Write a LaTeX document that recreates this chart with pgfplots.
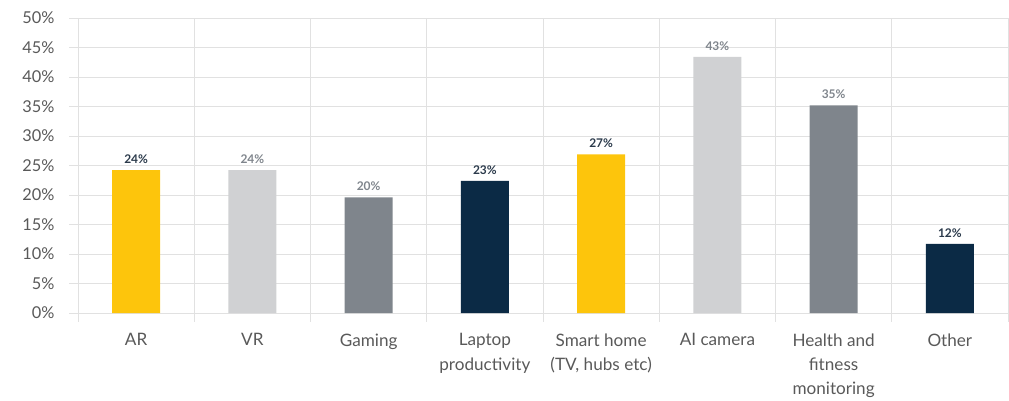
\documentclass[border=0pt]{standalone}
\usepackage{pgfplots}
\pgfplotsset{compat=1.18}
\usepackage{fontspec}
\setmainfont{Lato}
\definecolor{cyel}{HTML}{FDC50C}
\definecolor{clgr}{HTML}{D0D1D3}
\definecolor{cgry}{HTML}{7F858C}
\definecolor{cnav}{HTML}{0B2A45}
\definecolor{cgrid}{HTML}{E1E1E1}
\definecolor{ctxt}{HTML}{595959}
\definecolor{clabn}{HTML}{2B3A4B}
\begin{document}
\begin{tikzpicture}
\useasboundingbox (-78bp,-88bp) rectangle (931bp,313bp);
\begin{axis}[
  scale only axis,
  width=930bp, height=295bp,
  xmin=-0.5, xmax=7.5,
  ymin=0, ymax=50,
  ytick={0,5,...,50},
  yticklabel={\pgfmathprintnumber{\tick}\%},
  /pgf/number format/assume math mode=true,
  xtick={-0.5,0.5,...,7.5},
  xticklabels={},
  extra x ticks={0,1,2,3,4,5,6,7},
  extra x tick labels={AR,VR,Gaming,{Laptop\\productivity},{Smart home\\(TV, hubs etc)},AI camera,{Health and\\fitness\\monitoring},Other},
  extra x tick style={grid=none, major tick length=0pt, tick style={draw=none}},
  xtick pos=bottom, ytick pos=left,
  tick align=outside,
  major tick length=9bp,
  tick style={draw=cgrid, line width=1pt},
  grid=major,
  major grid style={draw=cgrid, line width=1pt},
  axis line style={draw=none},
  ticklabel style={text=ctxt},
  xticklabel style={font=\fontsize{17.2}{24.5}\selectfont, align=center, yshift=-17bp},
  yticklabel style={font=\fontsize{16.4}{20}\selectfont, xshift=-11bp},
  ybar, bar width=48bp, bar shift=0pt,
  point meta=explicit symbolic,
  nodes near coords={\pgfplotspointmeta\%},
  nodes near coords style={font=\fontsize{12}{14}\selectfont\bfseries, yshift=3bp},
  every axis plot/.append style={draw=none},
  clip=false,
]
\addplot[fill=cyel, nodes near coords style={text=clabn}] coordinates {(0,24.2)[24] (4,26.9)[27]};
\addplot[fill=clgr, nodes near coords style={text=cgry}] coordinates {(1,24.2)[24] (5,43.4)[43]};
\addplot[fill=cgry, nodes near coords style={text=cgry}] coordinates {(2,19.6)[20] (6,35.2)[35]};
\addplot[fill=cnav, nodes near coords style={text=clabn}] coordinates {(3,22.4)[23] (7,11.7)[12]};
\end{axis}
\end{tikzpicture}
\end{document}
